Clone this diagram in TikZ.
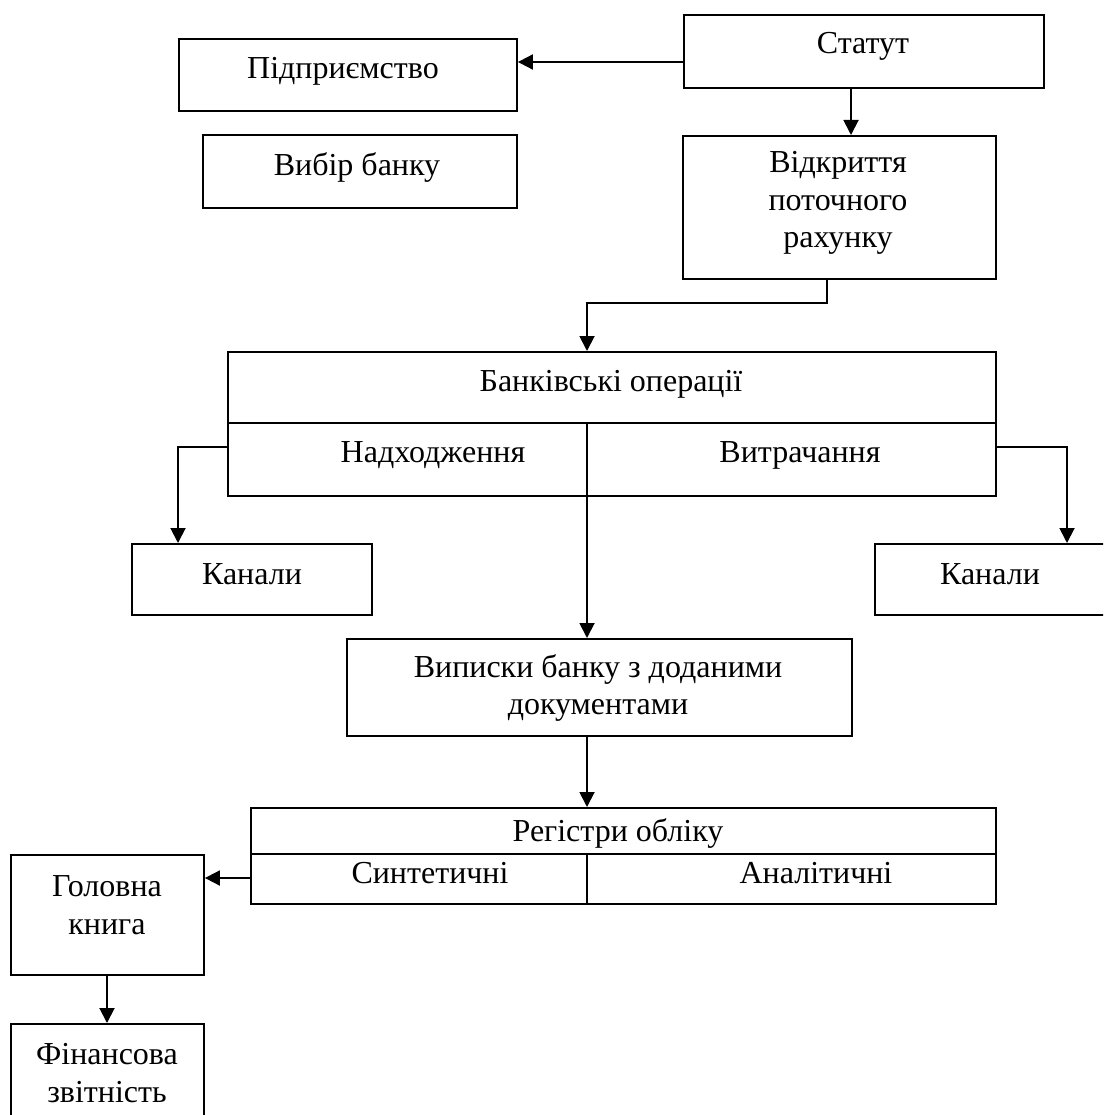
\documentclass[tikz,border=0pt]{standalone}
\usepackage{fontspec}
\setmainfont{Liberation Serif}
\usetikzlibrary{arrows.meta,calc}
\begin{document}
\begin{tikzpicture}[x=1pt,y=-1pt,
  line width=1.9pt,
  box/.style={draw,rectangle,inner sep=0pt},
  lbl/.style={inner sep=0pt,align=center,font=\fontsize{32}{37.5}\selectfont},
  arr/.style={-{Triangle[length=15pt,width=15pt]}}]
\useasboundingbox (0,0) rectangle (1103,1115);
\clip (0,0) rectangle (1103,1115);

% boxes
\node[box,minimum width=360pt,minimum height=73pt,anchor=north west] (statut) at (683,14) {};
\node[box,minimum width=338pt,minimum height=72pt,anchor=north west] (pidpr) at (178,38) {};
\node[box,minimum width=314pt,minimum height=73pt,anchor=north west] (vybir) at (202,134) {};
\node[box,minimum width=313pt,minimum height=143pt,anchor=north west] (vidkr) at (682,135) {};
\node[box,minimum width=768pt,minimum height=144pt,anchor=north west] (bank) at (227,351) {};
\node[box,minimum width=240pt,minimum height=71pt,anchor=north west] (kanL) at (131,543) {};
\node[box,minimum width=260pt,minimum height=71pt,anchor=north west] (kanR) at (874,543) {};
\node[box,minimum width=505pt,minimum height=97pt,anchor=north west] (vyp) at (346,638) {};
\node[box,minimum width=745pt,minimum height=96pt,anchor=north west] (reg) at (250,807) {};
\node[box,minimum width=193pt,minimum height=120pt,anchor=north west] (hol) at (10,854) {};
\node[box,minimum width=193pt,minimum height=130pt,anchor=north west] (fin) at (10,1023) {};

% inner partitions
\draw (bank.west |- 0,423) -- (bank.east |- 0,423);
\draw (reg.west |- 0,854) -- (reg.east |- 0,854);
\draw (587,854) -- (reg.south -| 587,0);

% texts
\node[lbl] (t1) at (863,46) {Статут};
\node[lbl] (t2) at (343,71) {Підприємство};
\node[lbl] (t3) at (357,168) {Вибір банку};
\node[lbl] (t4) at (838,203) {Відкриття\\поточного\\рахунку};
\node[lbl] (t5) at (611,384) {Банківські операції};
\node[lbl] (t6) at (433,455) {Надходження};
\node[lbl] (t7) at (800,455) {Витрачання};
\node[lbl] (t8) at (252,574) {Канали};
\node[lbl] (t9) at (990,574) {Канали};
\node[lbl] (t10) at (598,688) {Виписки банку з доданими\\документами};
\node[lbl] (t11) at (618,833) {Регістри обліку};
\node[lbl] (t12) at (430,873) {Синтетичні};
\node[lbl] (t13) at (816,873) {Аналітичні};
\node[lbl] (t14) at (107,905) {Головна\\книга};
\node[lbl] (t15) at (107,1073) {Фінансова\\звітність};

% connectors
\coordinate (c1) at (683,62);
\draw[arr] (c1) -- (pidpr.east |- c1);
\draw[arr] (statut.south -| 851,0) -- (vidkr.north -| 851,0);
\coordinate (c2) at (827,303);
\coordinate (c3) at (587,303);
\draw[arr] (vidkr.south -| c2) -- (c2) -- (c3) -- (bank.north -| c3);
\coordinate (c4) at (178,447);
\draw[arr] (bank.west |- c4) -- (c4) -- (kanL.north -| c4);
\coordinate (c5) at (1067,447);
\draw[arr] (bank.east |- c5) -- (c5) -- (kanR.north -| c5);
\draw[arr] (587,423) -- (vyp.north -| 587,0);
\draw[arr] (vyp.south -| 587,0) -- (reg.north -| 587,0);
\coordinate (c6) at (250,878);
\draw[arr] (c6) -- (hol.east |- c6);
\draw[arr] (hol.south -| 107,0) -- (fin.north -| 107,0);
\end{tikzpicture}
\end{document}
